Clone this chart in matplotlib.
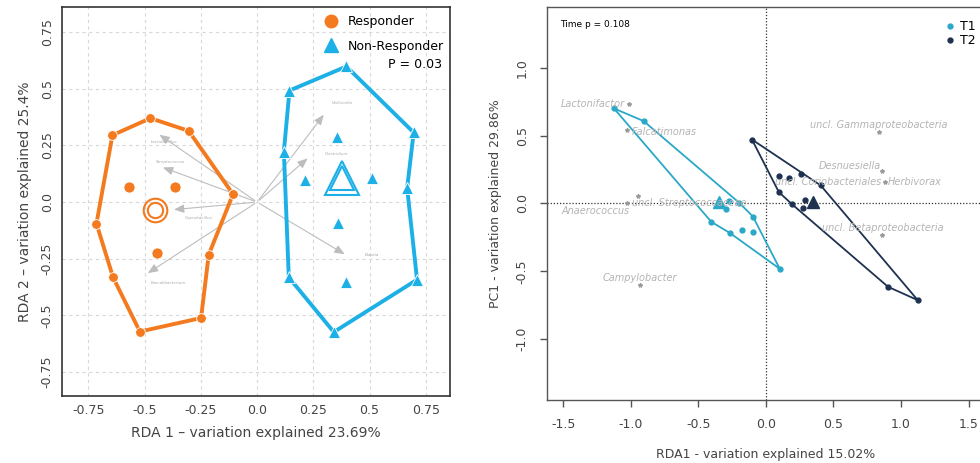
import numpy as np
import matplotlib.pyplot as plt
from matplotlib.lines import Line2D

# ---- left panel data (RDA, responder vs non-responder)
resp_hull_x = [-0.643, -0.474, -0.304, -0.107, -0.215, -0.249, -0.521, -0.640, -0.714]
resp_hull_y = [0.295, 0.370, 0.314, 0.035, -0.232, -0.511, -0.571, -0.332, -0.095]
resp_in_x = [-0.570, -0.367, -0.443]
resp_in_y = [0.066, 0.066, -0.223]
resp_cent = (-0.455, -0.034)

non_hull_x = [0.397, 0.696, 0.667, 0.711, 0.341, 0.141, 0.119, 0.144]
non_hull_y = [0.598, 0.307, 0.062, -0.342, -0.573, -0.332, 0.223, 0.492]
non_in_x = [0.356, 0.215, 0.511, 0.359, 0.396]
non_in_y = [0.286, 0.098, 0.106, -0.093, -0.354]
non_cent = (0.378, 0.106)

arrow_names = ["Lactobacillus", "Streptococcus", "Coprobacillus", "Faecalibacterium",
               "Veillonella", "Clostridium", "Blautia"]
arrow_x = [-0.444, -0.430, -0.382, -0.496, 0.304, 0.234, 0.400]
arrow_y = [0.304, 0.157, -0.034, -0.320, 0.395, 0.201, -0.236]
arrow_lx = [-0.47, -0.45, -0.32, -0.47, 0.33, 0.30, 0.48]
arrow_ly = [0.265, 0.178, -0.07, -0.355, 0.435, 0.21, -0.235]

# ---- right panel data (RDA, T1 vs T2)
t1_hull_x = [-1.123, -0.904, -0.197, -0.096, 0.103, -0.264, -0.404]
t1_hull_y = [0.701, 0.608, 0.005, -0.096, -0.482, -0.219, -0.135]
t1_in_x = [-0.273, -0.298, -0.175, -0.096]
t1_in_y = [0.022, -0.037, -0.194, -0.212]
t1_cent = (-0.345, 0.012)

t2_hull_x = [-0.103, 0.406, 1.123, 0.904, 0.195, 0.096]
t2_hull_y = [0.472, 0.133, -0.713, -0.615, -0.007, 0.084]
t2_in_x = [0.096, 0.170, 0.259, 0.293, 0.271]
t2_in_y = [0.204, 0.185, 0.214, 0.025, -0.032]
t2_cent = (0.345, 0.012)

sp_x = [-1.010, -1.025, -0.948, -1.025, -0.931, 0.835, 0.862, 0.879, 0.862]
sp_y = [0.733, 0.541, 0.054, 0.000, -0.603, 0.524, 0.241, 0.157, -0.234]
sp_names = ["Lactonifactor", "Falcatimonas", "Anaerococcus", "uncl. Streptococcaceae",
            "Campylobacter", "uncl. Gammaproteobacteria", "Desnuesiella",
            "uncl. Coriobacteriales", "uncl. Betaproteobacteria"]
sp_lx = [-1.04, -0.99, -1.26, -0.99, -0.931, 0.835, 0.85, 0.855, 0.862]
sp_ly = [0.733, 0.530, -0.055, 0.000, -0.549, 0.578, 0.278, 0.157, -0.180]
sp_ha = ["right", "left", "center", "left", "center", "center", "right", "right", "center"]
extra_name = "Herbivorax"

orange = "#F47A20"
blue = "#1CB0E6"
t1c = "#2AA8C8"
t2c = "#1E3250"

fig = plt.figure(figsize=(9.8, 4.63), dpi=100)

# ================= left panel
ax = fig.add_axes([0.0633, 0.1447, 0.396, 0.840])
ax.set_xlim(-0.867, 0.858)
ax.set_ylim(-0.855, 0.86)
ticks = [-0.75, -0.5, -0.25, 0.0, 0.25, 0.5, 0.75]
ax.set_xticks(ticks)
ax.set_yticks(ticks)
ax.set_xticklabels(["-0.75", "-0.5", "-0.25", "0.0", "0.25", "0.5", "0.75"], fontsize=9, color="#444444")
ax.set_yticklabels(["-0.75", "-0.5", "-0.25", "0.0", "0.25", "0.5", "0.75"], fontsize=9, color="#444444",
                   rotation=90, va="center")
ax.tick_params(length=0, pad=6)
ax.grid(True, color="#d8d8d8", linestyle=(0, (3, 3)), linewidth=0.8)
ax.set_axisbelow(True)
for s in ax.spines.values():
    s.set_color("#333333")
    s.set_linewidth(1.2)

for i in range(len(arrow_x)):
    ax.annotate("", xy=(arrow_x[i], arrow_y[i]), xytext=(0, 0),
                arrowprops=dict(arrowstyle="-|>,head_length=0.6,head_width=0.25",
                                color="#bdbdbd", lw=0.8))
    ax.text(arrow_lx[i], arrow_ly[i], arrow_names[i], fontsize=3, color="#aaaaaa",
            ha="left", va="center", style="italic")

ax.plot(resp_hull_x + resp_hull_x[:1], resp_hull_y + resp_hull_y[:1], color=orange, lw=2.8, zorder=3)
ax.plot(resp_hull_x, resp_hull_y, "o", color=orange, ms=7, mec="white", mew=0.6, zorder=4)
ax.plot(resp_in_x, resp_in_y, "o", color=orange, ms=8, mec="white", mew=0.6, zorder=4)
ax.plot(*resp_cent, "o", ms=17, mfc="none", mec=orange, mew=1.5, zorder=4)
ax.plot(*resp_cent, "o", ms=11, mfc="none", mec=orange, mew=1.5, zorder=4)

ax.plot(non_hull_x + non_hull_x[:1], non_hull_y + non_hull_y[:1], color=blue, lw=2.8, zorder=3)
ax.plot(non_hull_x, non_hull_y, "^", color=blue, ms=8, mec="white", mew=0.6, zorder=4)
ax.plot(non_in_x, non_in_y, "^", color=blue, ms=9, mec="white", mew=0.6, zorder=4)
ax.plot(*non_cent, "^", ms=24, mfc="none", mec=blue, mew=1.5, zorder=4)
ax.plot(*non_cent, "^", ms=17, mfc="none", mec=blue, mew=1.5, zorder=4)

handles = [Line2D([], [], marker="o", color=orange, ls="none", ms=9),
           Line2D([], [], marker="^", color=blue, ls="none", ms=10)]
ax.legend(handles, ["Responder", "Non-Responder"], loc="upper right", frameon=False,
          fontsize=9, handletextpad=0.3, labelspacing=0.9, borderaxespad=0.1,
          bbox_to_anchor=(1.0, 0.995))
ax.text(0.98, 0.852, "P = 0.03", transform=ax.transAxes, ha="right", va="center", fontsize=9)

ax.set_xlabel("RDA 1 \u2013 variation explained 23.69%", fontsize=10, color="#444444", labelpad=6)
ax.set_ylabel("RDA 2 \u2013 variation explained 25.4%", fontsize=10, color="#444444", labelpad=6)

# ================= right panel
ax2 = fig.add_axes([0.558, 0.136, 0.447, 0.849])
ax2.set_xlim(-1.62, 1.62)
ax2.set_ylim(-1.45, 1.45)
ax2.set_xticks([-1.5, -1.0, -0.5, 0.0, 0.5, 1.0, 1.5])
ax2.set_yticks([-1.0, -0.5, 0.0, 0.5, 1.0])
ax2.set_xticklabels(["-1.5", "-1.0", "-0.5", "0.0", "0.5", "1.0", "1.5"], fontsize=9, color="#444444")
ax2.set_yticklabels(["-1.0", "-0.5", "0.0", "0.5", "1.0"], fontsize=9, color="#444444",
                    rotation=90, va="center")
ax2.tick_params(length=5, width=1, color="#555555", pad=8)
for s in ax2.spines.values():
    s.set_color("#555555")
    s.set_linewidth(1.0)
ax2.axhline(0, color="#333333", lw=0.9, ls=(0, (1, 1.5)))
ax2.axvline(0, color="#333333", lw=0.9, ls=(0, (1, 1.5)))

for i in range(len(sp_x)):
    ax2.plot(sp_x[i], sp_y[i], "*", color="#9a9a9a", ms=3)
    ax2.text(sp_lx[i], sp_ly[i], sp_names[i], fontsize=7, color="#b4b4b4", style="italic",
             ha=sp_ha[i], va="center")
ax2.text(0.905, 0.157, extra_name, fontsize=7, color="#b4b4b4", style="italic", ha="left", va="center")

ax2.plot(t1_hull_x + t1_hull_x[:1], t1_hull_y + t1_hull_y[:1], color=t1c, lw=1.3)
ax2.plot(t1_hull_x + t1_in_x, t1_hull_y + t1_in_y, "o", color=t1c, ms=3.5)
ax2.plot(*t1_cent, "^", color=t1c, ms=9)
ax2.plot(t2_hull_x + t2_hull_x[:1], t2_hull_y + t2_hull_y[:1], color=t2c, lw=1.3)
ax2.plot(t2_hull_x + t2_in_x, t2_hull_y + t2_in_y, "o", color=t2c, ms=3.5)
ax2.plot(*t2_cent, "^", color=t2c, ms=9)

h2 = [Line2D([], [], marker="o", color=t1c, ls="none", ms=3.5),
      Line2D([], [], marker="o", color=t2c, ls="none", ms=3.5)]
ax2.legend(h2, ["T1", "T2"], loc="upper left", bbox_to_anchor=(0.878, 0.995), frameon=False,
           fontsize=9, handletextpad=0.2, labelspacing=0.1, handlelength=1.2)
ax2.text(0.03, 0.955, "Time p = 0.108", transform=ax2.transAxes, fontsize=6.5, ha="left", va="center")

ax2.set_xlabel("RDA1 - variation explained 15.02%", fontsize=9, color="#444444", labelpad=12)
ax2.set_ylabel("PC1 - variation explained 29.86%", fontsize=9, color="#444444", labelpad=10)

fig.savefig("out.png", dpi=100)
